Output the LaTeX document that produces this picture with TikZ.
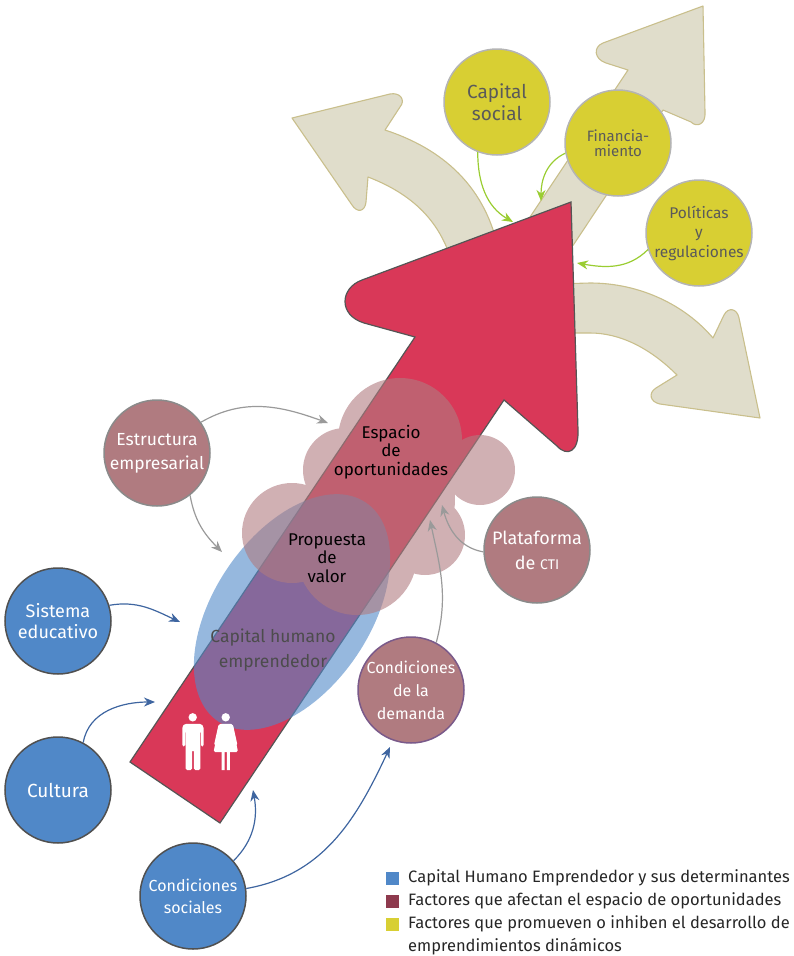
\documentclass[tikz,border=0pt]{standalone}
\usepackage{fontspec}
\setmainfont{Fira Sans}
\usetikzlibrary{arrows.meta}
\definecolor{redA}{RGB}{217,56,88}
\definecolor{redD}{RGB}{85,85,85}
\definecolor{beigeF}{RGB}{224,221,203}
\definecolor{beigeD}{RGB}{201,191,140}
\definecolor{yelC}{RGB}{216,207,51}
\definecolor{yelD}{RGB}{180,180,180}
\definecolor{marC}{RGB}{176,123,128}
\definecolor{marD}{RGB}{138,138,138}
\definecolor{demD}{RGB}{122,90,138}
\definecolor{bluC}{RGB}{80,136,200}
\definecolor{bluD}{RGB}{80,80,80}
\definecolor{bluA}{RGB}{62,101,160}
\definecolor{grnA}{RGB}{154,205,50}
\definecolor{gryA}{RGB}{154,154,154}
\definecolor{txtG}{RGB}{90,90,90}
\definecolor{legM}{RGB}{142,58,78}
\newcommand\fsz[2]{\fontsize{#1}{#2}\selectfont}
\begin{document}
\begin{tikzpicture}[x=1pt,y=-1pt,
 beige/.style={fill=beigeF, draw=beigeD, line width=1.1pt, line join=round},
 circbase/.style={circle, minimum size=106pt, inner sep=0pt, line width=1.5pt, align=center},
 ycirc/.style={circbase, fill=yelC, draw=yelD, text=txtG},
 mcirc/.style={circbase, fill=marC, draw=marD, text=white},
 bcirc/.style={circbase, fill=bluC, draw=bluD, text=white},
 tipS/.style={-{Stealth[length=11pt,width=9pt,inset=3.5pt]}},
 garr/.style={draw=grnA, line width=1.2pt, tipS},
 grarr/.style={draw=gryA, line width=1.2pt, tipS},
 barr/.style={draw=bluA, line width=1.2pt, tipS},
 inner/.style={align=center, inner sep=0pt},
 legsq/.style={minimum size=13pt, inner sep=0pt},
 legtx/.style={anchor=west, inner sep=0pt, text=black!85, font=\fsz{16.5}{23}, align=left}
]
\useasboundingbox (0,0) rectangle (793,956);

% beige arrows
\draw[beige] (455,275) .. controls (445,225) and (415,195) .. (368,177) -- (366,202) .. controls (365,212) and (357,213) .. (352,205) -- (292,118) -- (390,94) .. controls (400,92) and (406,100) .. (400,107) -- (385,130) .. controls (440,148) and (488,185) .. (500,258) -- cycle;
\draw[beige] (520,232) -- (628,70) -- (606,63) .. controls (594,59) and (593,47) .. (603,43) -- (703,6) -- (705,112) .. controls (706,124) and (697,128) .. (691,122) -- (663,110) -- (560,265) -- cycle;
\draw[beige] (555,284) -- (590,283) .. controls (640,283) and (685,305) .. (713,338) -- (724,315) .. controls (728,307) and (737,308) .. (739,318) -- (760,418) -- (660,404) .. controls (650,402) and (648,393) .. (656,388) -- (677,375) .. controls (650,348) and (620,333) .. (590,333) -- (555,333) -- cycle;

% yellow circles
\node[ycirc, font=\fsz{19}{22}] (cs) at (497,102) {Capital\\social};
\node[ycirc, font=\fsz{15}{15}] (fin) at (618,143) {Financia-\\miento};
\node[ycirc, font=\fsz{15.5}{19.5}] (pol) at (699,233) {Políticas\\y\\regulaciones};

% red arrow
\draw[fill=redA, draw=redD, line width=1.2pt] (130,762) -- (415,337) -- (364,323) .. controls (338,315) and (340,288) .. (362,280) -- (571,202) -- (578,430) .. controls (579,452) and (567,457) .. (557,446) -- (504,400) -- (220,823) -- cycle;

% blue ellipse
\fill[bluC, opacity=0.6, rotate around={56:(292,612)}] (292,612) ellipse [x radius=132, y radius=78];

% cloud
\begin{scope}[transparency group, opacity=0.6]
\fill[marC] (400,440) circle [radius=62] (480,470) circle [radius=35] (425,535) circle [radius=40]
 (357,555) circle [radius=60] (292,533) circle [radius=50] (345,470) circle [radius=42] (395,500) circle [radius=60];
\end{scope}

% inner texts
\node[inner, font=\fsz{17}{18.5}, text=black] (esp) at (391,452) {Espacio\\de\\oportunidades};
\node[inner, font=\fsz{17}{18.5}, text=black] (prop) at (327,558) {Propuesta\\de\\valor};
\node[inner, font=\fsz{17.5}{25}, text=black!70] (chm) at (273,650) {Capital humano\\emprendedor};

% people icons
\fill[white] (192.7,717.3) circle [radius=4.2];
\fill[white, rounded corners=1.5] (182.3,746.5) -- (182.3,726.5) -- (184.8,723.8) -- (201,723.8) -- (203.6,726.5) -- (203.6,746.5) -- (201,746.5) -- (201,731) -- (200.3,731) -- (200.3,770) -- (193.8,770) -- (193.8,750) -- (192.2,750) -- (192.2,770) -- (185.7,770) -- (185.7,731) -- (185,731) -- (185,746.5) -- cycle;
\fill[white] (225.7,717.3) circle [radius=4.2];
\fill[white, rounded corners=1.5] (219,723.8) -- (232.5,723.8) -- (238,752) -- (213.6,752) -- cycle;
\draw[white, line width=2.4pt, line cap=round] (219.5,726) -- (215.5,744) (232,726) -- (236,744);
\fill[white] (221.6,751) rectangle (224.6,770) (226.8,751) rectangle (229.8,770);

% maroon circles
\node[mcirc, font=\fsz{17.5}{24}] (est) at (157,453) {Estructura\\empresarial};
\node[mcirc, font=\fsz{18}{25}] (pla) at (537,550) {Plataforma\\de {\fsz{14}{14}CTI}};
\node[mcirc, draw=demD, font=\fsz{16}{23}] (dem) at (411,690) {Condiciones\\de la\\demanda};

% blue circles
\node[bcirc, font=\fsz{18}{21}] (sis) at (58,621) {Sistema\\educativo};
\node[bcirc, font=\fsz{19}{22}] (cul) at (58,790) {Cultura};
\node[bcirc, font=\fsz{16}{22}] (cso) at (193,896) {Condiciones\\sociales};

% targets
\coordinate (g1) at (513,222);
\coordinate (g2) at (541,201);
\coordinate (g3) at (577,263);
\coordinate (r1) at (328,423);
\coordinate (r2) at (222,552);
\coordinate (r3) at (442,505);
\coordinate (r4) at (430,520);
\coordinate (b1) at (180,622);
\coordinate (b2) at (155,702);
\coordinate (b3) at (253,790);
\coordinate (b4) at (390,747);

% connectors
\draw[garr] (cs.249) to[out=-90, in=150] (g1);
\draw[garr] (fin.191) to[out=205, in=90] (g2);
\draw[garr] (pol.198) to[out=225, in=-10] (g3);
\draw[grarr] (est.35) to[out=30, in=160] (r1);
\draw[grarr] (est.308) to[out=-80, in=135] (r2);
\draw[grarr] (pla.182) to[out=170, in=-75] (r3);
\draw[grarr] (dem.62) to[out=75, in=-78] (r4);
\draw[barr] (sis.17) to[out=10, in=155] (b1);
\draw[barr] (cul.62) to[out=80, in=180] (b2);
\draw[barr] (cso.41) to[out=45, in=-80] (b3);
\draw[barr] (cso.8) to[out=10, in=-115] (b4);

% legend
\node[legsq, fill=bluC] (l1) at (392.5,878) {};
\node[legsq, fill=legM] (l2) at (392.5,901) {};
\node[legsq, fill=yelC] (l3) at (392.5,924) {};
\node[legtx] (t1) at (408,878) {Capital Humano Emprendedor y sus determinantes};
\node[legtx] (t2) at (408,901) {Factores que afectan el espacio de oportunidades};
\node[legtx, anchor=north west] (t3) at (408,915) {Factores que promueven o inhiben el desarrollo de\\emprendimientos dinámicos};
\end{tikzpicture}
\end{document}
